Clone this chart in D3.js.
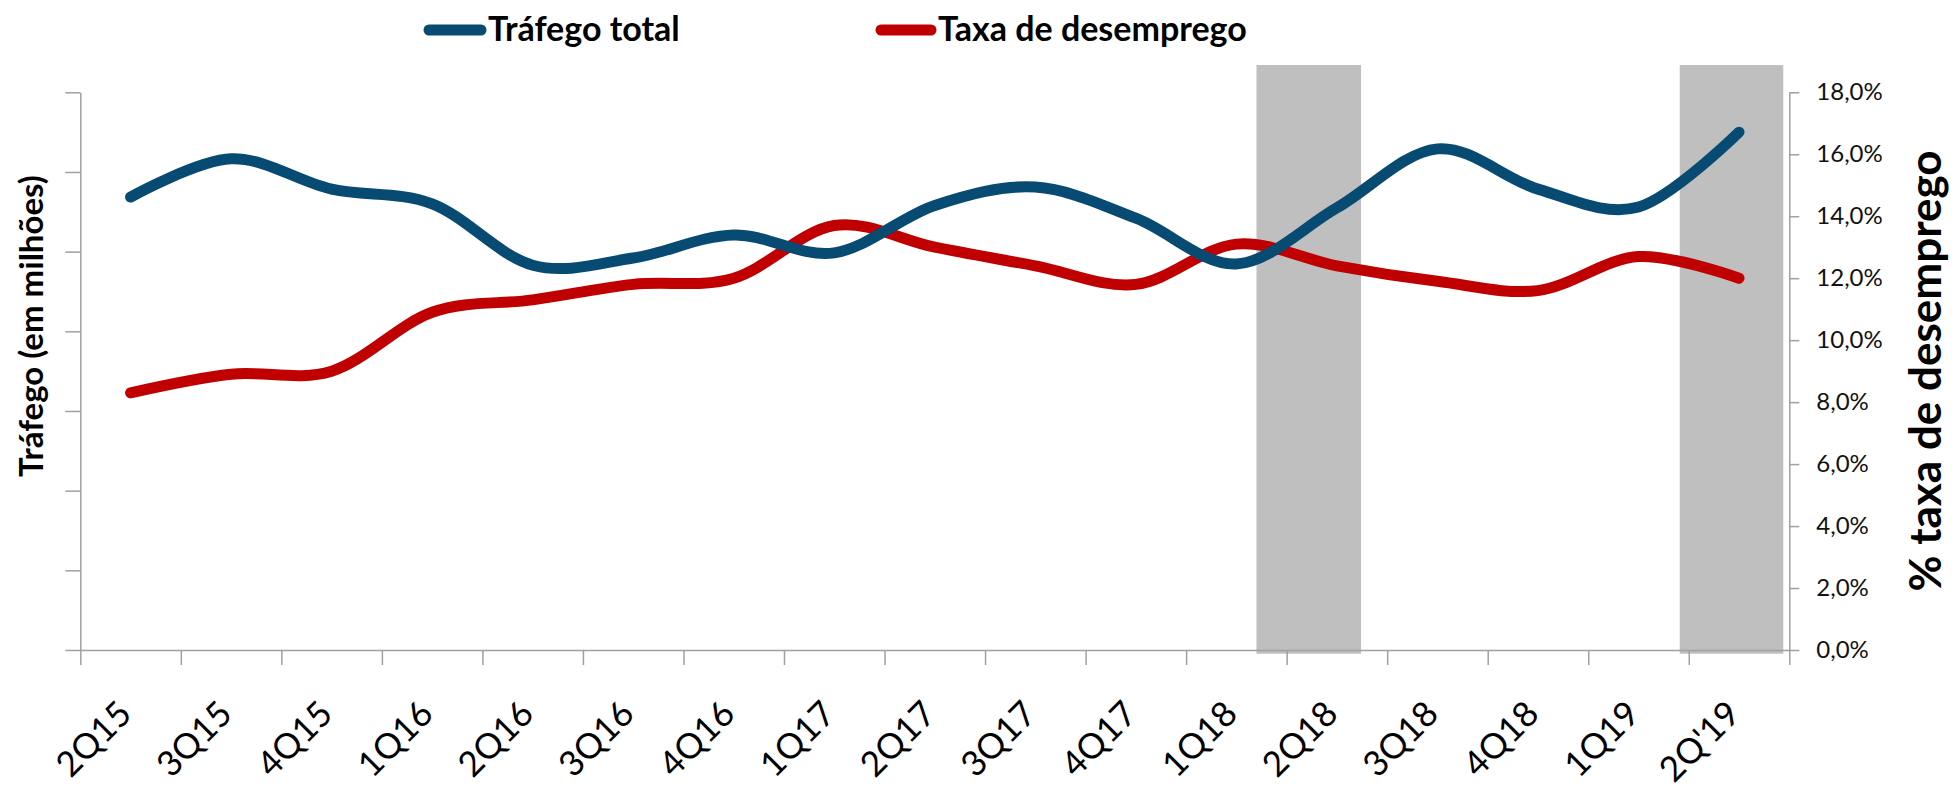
<!DOCTYPE html>
<html>
<head>
<meta charset="utf-8">
<script src="https://cdn.jsdelivr.net/npm/d3@7"></script>
<style>
  html, body { margin: 0; padding: 0; background: #fff; }
  svg { display: block; }
  text { font-family: Lato, "Open Sans", sans-serif; }
</style>
</head>
<body>
<svg id="chart" width="1952" height="791"></svg>
<script>
// ---- data ----
const categories = ["2Q15","3Q15","4Q15","1Q16","2Q16","3Q16","4Q16","1Q17","2Q17","3Q17","4Q17","1Q18","2Q18","3Q18","4Q18","1Q19","2Q'19"];
// Tráfego total (em milhões), left axis without labels
const trafego = [113.7, 123.3, 115.7, 112.0, 96.6, 98.4, 104.2, 99.7, 111.6, 116.2, 108.4, 96.9, 111.0, 125.8, 115.7, 111.2, 130.0];
// Taxa de desemprego (%)
const desemprego = [8.3, 8.9, 9.0, 10.9, 11.3, 11.8, 12.0, 13.7, 13.0, 12.4, 11.8, 13.1, 12.4, 11.9, 11.6, 12.7, 12.0];
const leftTicks = [0, 20, 40, 60, 80, 100, 120, 140];
const rightTicks = [0, 2, 4, 6, 8, 10, 12, 14, 16, 18];
// shaded periods (in category-band units) and their vertical extent (in % units)
const shadeFrom = [11.7, 15.91];
const shadeTo = [12.74, 16.94];
const shadeTop = 18.88;
const shadeBottom = -0.12;
const seriesNames = ["Tráfego total", "Taxa de desemprego"];

// ---- layout ----
const L = 80.3, R = 1789.3, T = 92.3, B = 650;
const colBlue = "#074a72", colRed = "#c00000", axisCol = "#a0a0a0", shadeCol = "#bfbfbf";

const svg = d3.select("#chart");
const x = d3.scaleBand().domain(categories).range([L, R]);
const xu = d3.scaleLinear().domain([0, categories.length]).range([L, R]);
const yL = d3.scaleLinear().domain([0, 140]).range([B, T]);
const yR = d3.scaleLinear().domain([0, 18]).range([B, T]);

// shaded rects
svg.append("g").selectAll("rect").data(shadeFrom).join("rect")
  .attr("x", (d) => xu(d))
  .attr("width", (d, i) => xu(shadeTo[i]) - xu(d))
  .attr("y", yR(shadeTop))
  .attr("height", yR(shadeBottom) - yR(shadeTop))
  .attr("fill", shadeCol);

function styleAxis(g) {
  g.selectAll("path, line").attr("stroke", axisCol).attr("stroke-width", 1.5);
}

// left axis (no labels)
svg.append("g").attr("transform", `translate(${L},0)`)
  .call(d3.axisLeft(yL).tickValues(leftTicks).tickSize(15).tickSizeOuter(0).tickFormat(""))
  .call(styleAxis);

// bottom axis with ticks on band boundaries
svg.append("g").attr("transform", `translate(0,${B})`)
  .call(d3.axisBottom(xu).tickValues(d3.range(categories.length + 1)).tickSize(15).tickSizeOuter(0).tickFormat(""))
  .call(styleAxis);

// right axis
svg.append("g").attr("transform", `translate(${R},0)`)
  .call(d3.axisRight(yR).tickValues(rightTicks).tickSize(10).tickSizeOuter(0).tickPadding(17)
    .tickFormat((d) => d.toFixed(1).replace(".", ",") + "%"))
  .call(styleAxis)
  .call((g) => g.selectAll("text").attr("font-size", 24).attr("fill", "#111")
    .style("font-family", "Lato, sans-serif"));

// category labels rotated
svg.append("g").selectAll("text").data(categories).join("text")
  .attr("transform", (d) => `translate(${x(d) + x.bandwidth() / 2 + 3},${B + 66}) rotate(-45)`)
  .attr("text-anchor", "end")
  .attr("font-size", 35)
  .attr("fill", "#000")
  .text((d) => d);

// lines
const lineL = d3.line().x((d, i) => x(categories[i]) + x.bandwidth() / 2).y((d) => yL(d)).curve(d3.curveCatmullRom.alpha(0));
const lineR = d3.line().x((d, i) => x(categories[i]) + x.bandwidth() / 2).y((d) => yR(d)).curve(d3.curveCatmullRom.alpha(0));

svg.append("path").datum(desemprego).attr("d", lineR)
  .attr("fill", "none").attr("stroke", colRed).attr("stroke-width", 11)
  .attr("stroke-linecap", "round").attr("stroke-linejoin", "round");
svg.append("path").datum(trafego).attr("d", lineL)
  .attr("fill", "none").attr("stroke", colBlue).attr("stroke-width", 11)
  .attr("stroke-linecap", "round").attr("stroke-linejoin", "round");

// axis titles
svg.append("text")
  .attr("transform", `translate(30,326) rotate(-90)`)
  .attr("text-anchor", "middle").attr("dominant-baseline", "central")
  .attr("font-size", 33).attr("font-weight", "bold").attr("fill", "#000")
  .text("Tráfego (em milhões)");
svg.append("text")
  .attr("transform", `translate(1924,371) rotate(-90)`)
  .attr("text-anchor", "middle").attr("dominant-baseline", "central")
  .attr("font-size", 44).attr("font-weight", "bold").attr("fill", "#000")
  .text("% taxa de desemprego");

// legend
const legend = [{ name: seriesNames[0], color: colBlue, x1: 429, x2: 481, tx: 488 },
                { name: seriesNames[1], color: colRed, x1: 881, x2: 931, tx: 938 }];
const lg = svg.append("g").selectAll("g").data(legend).join("g");
lg.append("line").attr("x1", (d) => d.x1).attr("x2", (d) => d.x2).attr("y1", 30).attr("y2", 30)
  .attr("stroke", (d) => d.color).attr("stroke-width", 11).attr("stroke-linecap", "round");
lg.append("text").attr("x", (d) => d.tx).attr("y", 41)
  .attr("font-size", 34).attr("font-weight", "bold").attr("fill", "#000")
  .text((d) => d.name);
</script>
</body>
</html>
